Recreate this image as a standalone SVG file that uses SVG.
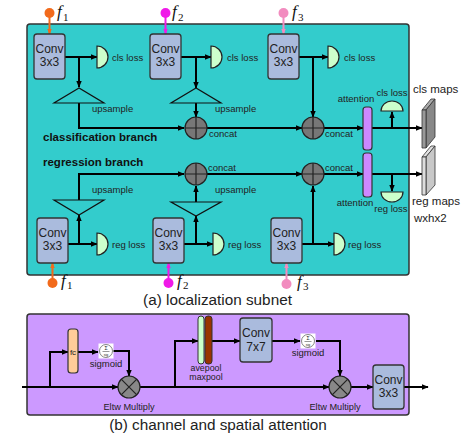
<svg xmlns="http://www.w3.org/2000/svg" width="470" height="442" viewBox="0 0 470 442">
<defs>
<marker id="ah" viewBox="0 0 10 10" refX="9" refY="5" markerWidth="7" markerHeight="7" orient="auto" markerUnits="userSpaceOnUse"><path d="M0,1 L10,5 L0,9 z" fill="#000"/></marker>
<marker id="ao" viewBox="0 0 10 10" refX="9" refY="5" markerWidth="6" markerHeight="6" orient="auto" markerUnits="userSpaceOnUse"><path d="M0,1 L10,5 L0,9 z" fill="#F26A1B"/></marker>
<marker id="am" viewBox="0 0 10 10" refX="9" refY="5" markerWidth="6" markerHeight="6" orient="auto" markerUnits="userSpaceOnUse"><path d="M0,1 L10,5 L0,9 z" fill="#F019E8"/></marker>
<marker id="ap" viewBox="0 0 10 10" refX="9" refY="5" markerWidth="6" markerHeight="6" orient="auto" markerUnits="userSpaceOnUse"><path d="M0,1 L10,5 L0,9 z" fill="#F28CBF"/></marker>
<g id="sigicon">
<rect x="-7.5" y="-7.5" width="15" height="15" fill="#fff"/>
<circle r="6.5" fill="#fff" stroke="#666" stroke-width="0.8"/>
<text x="0" y="-1" font-size="5" text-anchor="middle" font-family="DejaVu Sans, sans-serif" fill="#333">Σ</text>
<line x1="-3.5" y1="0.5" x2="3.5" y2="0.5" stroke="#333" stroke-width="0.5"/>
<text x="0" y="4.5" font-size="3.5" text-anchor="middle" font-family="Liberation Sans, sans-serif" fill="#333">sig</text>
</g>
</defs>
<style>
text{font-family:"Liberation Sans",Arial,sans-serif;fill:#222}
.conv{fill:#AABBDD;stroke:#333;stroke-width:1.3}
.ct{font-size:12px;text-anchor:middle;fill:#222}
.lbl{font-size:9.5px}
.mid{text-anchor:middle}
.big{font-size:11.5px}
.br{font-size:11.5px;font-weight:bold;fill:#111}
.cap{font-size:15.3px;text-anchor:middle}
.loss{fill:#CCFFCC;stroke:#222;stroke-width:1.2}
.tri{fill:none;stroke:#111;stroke-width:1.2}
.cc{fill:#777;stroke:#222;stroke-width:1.2}
.x{stroke:#222;stroke-width:1.2}
.w{fill:none;stroke:#000;stroke-width:2}
.fi{font-family:"Liberation Serif",serif;font-style:italic;font-size:17px;fill:#111}
.fs{font-family:"Liberation Serif",serif;font-size:11px;fill:#111}
.att{fill:#CC88FF;stroke:#333;stroke-width:1.2}
</style>

<g id="panelA"><rect x="27" y="24" width="382" height="251" rx="3" fill="#33CCCC" stroke="#333" stroke-width="1.5"/></g>
<g id="panelB"><rect x="27" y="314" width="382" height="101" rx="3" fill="#CC99FF" stroke="#333" stroke-width="1.5"/></g>

<g id="connectors">
<path class="w" d="M65,57 H97" marker-end="url(#ah)"/>
<path class="w" d="M79,57 V87" marker-end="url(#ah)"/>
<path class="w" d="M79,103 V128 H184" marker-end="url(#ah)"/>
<path class="w" d="M181,57 H211" marker-end="url(#ah)"/>
<path class="w" d="M196,57 V88" marker-end="url(#ah)"/>
<path class="w" d="M196,103 V117" marker-end="url(#ah)"/>
<path class="w" d="M299,57 H328" marker-end="url(#ah)"/>
<path class="w" d="M313,57 V117" marker-end="url(#ah)"/>
<path class="w" d="M207,128 H302" marker-end="url(#ah)"/>
<path class="w" d="M324,128 H363" marker-end="url(#ah)"/>
<path class="w" d="M372,128 H422" marker-end="url(#ah)"/>
<path class="w" d="M392,128 V112" marker-end="url(#ah)"/>
<path class="w" d="M68,244 H97" marker-end="url(#ah)"/>
<path class="w" d="M79,244 V215" marker-end="url(#ah)"/>
<path class="w" d="M79,200 V174 H184" marker-end="url(#ah)"/>
<path class="w" d="M184,244 H213" marker-end="url(#ah)"/>
<path class="w" d="M196,244 V216" marker-end="url(#ah)"/>
<path class="w" d="M196,202 V186" marker-end="url(#ah)"/>
<path class="w" d="M302,244 H334" marker-end="url(#ah)"/>
<path class="w" d="M313,244 V186" marker-end="url(#ah)"/>
<path class="w" d="M207,174 H302" marker-end="url(#ah)"/>
<path class="w" d="M324,174 H363" marker-end="url(#ah)"/>
<path class="w" d="M372,174 H422" marker-end="url(#ah)"/>
<path class="w" d="M392,174 V191" marker-end="url(#ah)"/>
<path d="M49.5,13 V34" stroke="#F26A1B" stroke-width="2" marker-end="url(#ao)"/>
<path d="M165.5,13 V34" stroke="#F019E8" stroke-width="2" marker-end="url(#am)"/>
<path d="M283.5,13 V34" stroke="#F28CBF" stroke-width="2" marker-end="url(#ap)"/>
<path d="M52.5,283 V263" stroke="#F26A1B" stroke-width="2" marker-end="url(#ao)"/>
<path d="M168.5,283 V263" stroke="#F019E8" stroke-width="2" marker-end="url(#am)"/>
<path d="M286.5,284 V263" stroke="#F28CBF" stroke-width="2" marker-end="url(#ap)"/>
<path class="w" d="M22,387 H118" marker-end="url(#ah)"/>
<path class="w" d="M50,387 V352 H68" marker-end="url(#ah)"/>
<path class="w" d="M78,352 H98" marker-end="url(#ah)"/>
<path class="w" d="M113,351 H129 V376" marker-end="url(#ah)"/>
<path class="w" d="M140,387 H329" marker-end="url(#ah)"/>
<path class="w" d="M175,387 V341 H198" marker-end="url(#ah)"/>
<path class="w" d="M212,341 H240" marker-end="url(#ah)"/>
<path class="w" d="M272,341 H300" marker-end="url(#ah)"/>
<path class="w" d="M316,341 H340 V376" marker-end="url(#ah)"/>
<path class="w" d="M351,387 H373" marker-end="url(#ah)"/>
<path class="w" d="M404,387 H428" marker-end="url(#ah)"/>
</g>

<g id="f-top">
<circle cx="49.5" cy="13" r="5" fill="#F26A1B"/><text class="fi" x="57" y="17">f</text><text class="fs" x="63" y="21">1</text>
<circle cx="165.5" cy="13" r="5" fill="#F019E8"/><text class="fi" x="172" y="17">f</text><text class="fs" x="178" y="21">2</text>
<circle cx="283.5" cy="13" r="5" fill="#F28CBF"/><text class="fi" x="292" y="17">f</text><text class="fs" x="298" y="21">3</text>
</g>
<g id="f-bottom">
<circle cx="52.5" cy="283" r="5" fill="#F26A1B"/><text class="fi" x="61" y="286">f</text><text class="fs" x="67" y="288.5">1</text>
<circle cx="168.5" cy="283" r="5" fill="#F019E8"/><text class="fi" x="177" y="286">f</text><text class="fs" x="183" y="288.5">2</text>
<circle cx="286.5" cy="284" r="5" fill="#F28CBF"/><text class="fi" x="297" y="287">f</text><text class="fs" x="303" y="289.5">3</text>
</g>

<g id="conv-c1"><rect class="conv" x="34" y="34" width="31" height="45" rx="3"/><text class="ct" x="49.5" y="53">Conv</text><text class="ct" x="49.5" y="66">3x3</text></g>
<g id="conv-c2"><rect class="conv" x="150" y="34" width="31" height="45" rx="3"/><text class="ct" x="165.5" y="53">Conv</text><text class="ct" x="165.5" y="66">3x3</text></g>
<g id="conv-c3"><rect class="conv" x="268" y="34" width="31" height="45" rx="3"/><text class="ct" x="283.5" y="53">Conv</text><text class="ct" x="283.5" y="66">3x3</text></g>
<g id="conv-r1"><rect class="conv" x="37" y="218" width="31" height="45" rx="3"/><text class="ct" x="52.5" y="237">Conv</text><text class="ct" x="52.5" y="250">3x3</text></g>
<g id="conv-r2"><rect class="conv" x="153" y="218" width="31" height="45" rx="3"/><text class="ct" x="168.5" y="237">Conv</text><text class="ct" x="168.5" y="250">3x3</text></g>
<g id="conv-r3"><rect class="conv" x="271" y="218" width="31" height="45" rx="3"/><text class="ct" x="286.5" y="237">Conv</text><text class="ct" x="286.5" y="250">3x3</text></g>

<g id="loss-c1"><path class="loss" d="M97,46 A11,11 0 0 1 97,68 Z"/><text class="lbl" x="112" y="61">cls loss</text></g>
<g id="loss-c2"><path class="loss" d="M211,46 A11,11 0 0 1 211,68 Z"/><text class="lbl" x="227" y="61">cls loss</text></g>
<g id="loss-c3"><path class="loss" d="M328,46 A11,11 0 0 1 328,68 Z"/><text class="lbl" x="344" y="61">cls loss</text></g>
<g id="loss-r1"><path class="loss" d="M97,233 A11,11 0 0 1 97,255 Z"/><text class="lbl" x="112" y="248">reg loss</text></g>
<g id="loss-r2"><path class="loss" d="M213,233 A11,11 0 0 1 213,255 Z"/><text class="lbl" x="228" y="248">reg loss</text></g>
<g id="loss-r3"><path class="loss" d="M334,233 A11,11 0 0 1 334,255 Z"/><text class="lbl" x="348" y="248">reg loss</text></g>
<g id="loss-cls-att"><path class="loss" d="M381,111 A11,10 0 0 1 403,111 Z"/><text class="lbl mid" x="392" y="96">cls loss</text></g>
<g id="loss-reg-att"><path class="loss" d="M381,192 A11,10 0 0 0 403,192 Z"/><text class="lbl mid" x="391" y="212">reg loss</text></g>

<g id="up-c1"><path class="tri" d="M79,88 L54,103 L104,103 Z"/><text class="lbl" x="92" y="112">upsample</text></g>
<g id="up-c2"><path class="tri" d="M196,88 L171,103 L221,103 Z"/><text class="lbl" x="215" y="112">upsample</text></g>
<g id="up-r1"><path class="tri" d="M54,200 L104,200 L79,215 Z"/><text class="lbl" x="92" y="193">upsample</text></g>
<g id="up-r2"><path class="tri" d="M171,202 L221,202 L196,216 Z"/><text class="lbl" x="215" y="193">upsample</text></g>

<g id="concat-c1"><circle class="cc" cx="196" cy="128" r="11"/><path class="x" d="M185,128 H207 M196,117 V139"/><text class="lbl" x="209" y="137">concat</text></g>
<g id="concat-c2"><circle class="cc" cx="313" cy="128" r="11"/><path class="x" d="M302,128 H324 M313,117 V139"/><text class="lbl" x="325" y="137">concat</text></g>
<g id="concat-r1"><circle class="cc" cx="196" cy="174" r="11"/><path class="x" d="M185,174 H207 M196,163 V185"/><text class="lbl" x="208" y="171">concat</text></g>
<g id="concat-r2"><circle class="cc" cx="313" cy="174" r="11"/><path class="x" d="M302,174 H324 M313,163 V185"/><text class="lbl" x="325" y="171">concat</text></g>

<g id="att-cls"><rect class="att" x="363" y="107" width="9" height="43" rx="3"/><text class="lbl mid" x="356" y="102">attention</text></g>
<g id="att-reg"><rect class="att" x="363" y="153" width="9" height="44" rx="3"/><text class="lbl mid" x="355" y="206">attention</text></g>

<g id="cls-maps" stroke="#333" stroke-width="0.8">
<polygon points="422,110 431,99 435,99 426,110" fill="#aaa"/>
<polygon points="426,110 435,99 435,137 426,148" fill="#888"/>
<polygon points="422,110 426,110 426,148 422,148" fill="#999"/>
<text class="big" x="413" y="93" stroke="none">cls maps</text>
</g>
<g id="reg-maps" stroke="#333" stroke-width="0.8">
<polygon points="422,157 431,146 435,146 426,157" fill="#e0e0e0"/>
<polygon points="426,157 435,146 435,185 426,195" fill="#c8c8c8"/>
<polygon points="422,157 426,157 426,195 422,195" fill="#ddd"/>
<text class="big" x="412" y="205" stroke="none">reg maps</text>
<text class="big" x="414" y="222" stroke="none">wxhx2</text>
</g>

<g id="branch-labels">
<text class="br" x="43" y="141">classification branch</text>
<text class="br" x="43" y="166">regression branch</text>
</g>
<text class="cap" x="217.5" y="305">(a) localization subnet</text>

<g id="fc"><rect x="68" y="329" width="10" height="44" rx="3" fill="#FFCC99" stroke="#333" stroke-width="1.2"/><text x="73" y="355" font-size="8" text-anchor="middle">fc</text></g>
<g id="sig1"><use href="#sigicon" x="106" y="351"/><text class="lbl mid" x="106" y="367">sigmoid</text></g>
<g id="mul1"><circle cx="129" cy="387" r="11" fill="#888" stroke="#222" stroke-width="1.2"/><path class="x" d="M121.2,379.2 L136.8,394.8 M136.8,379.2 L121.2,394.8"/><text x="129" y="410" font-size="9.2" text-anchor="middle">Eltw Multiply</text></g>
<g id="pool"><rect x="198" y="316" width="6" height="48" rx="3" fill="#CCFFCC" stroke="#333" stroke-width="1"/><rect x="205" y="316" width="7" height="48" rx="3" fill="#993300" stroke="#333" stroke-width="1"/><text x="206" y="371" font-size="8.8" text-anchor="middle">avepool</text><text x="206" y="379.5" font-size="8.8" text-anchor="middle">maxpool</text></g>
<g id="conv77"><rect class="conv" x="240" y="318" width="32" height="44" rx="3"/><text class="ct" x="256" y="337">Conv</text><text class="ct" x="256" y="351">7x7</text></g>
<g id="sig2"><use href="#sigicon" x="308" y="341"/><text class="lbl mid" x="308" y="356">sigmoid</text></g>
<g id="mul2"><circle cx="340" cy="387" r="11" fill="#888" stroke="#222" stroke-width="1.2"/><path class="x" d="M332.2,379.2 L347.8,394.8 M347.8,379.2 L332.2,394.8"/><text x="335" y="410" font-size="9.2" text-anchor="middle">Eltw Multiply</text></g>
<g id="conv33b"><rect class="conv" x="373" y="365" width="31" height="44" rx="3"/><text class="ct" x="388.5" y="384">Conv</text><text class="ct" x="388.5" y="397">3x3</text></g>
<text class="cap" x="218" y="430">(b) channel and spatial attention</text>
</svg>
